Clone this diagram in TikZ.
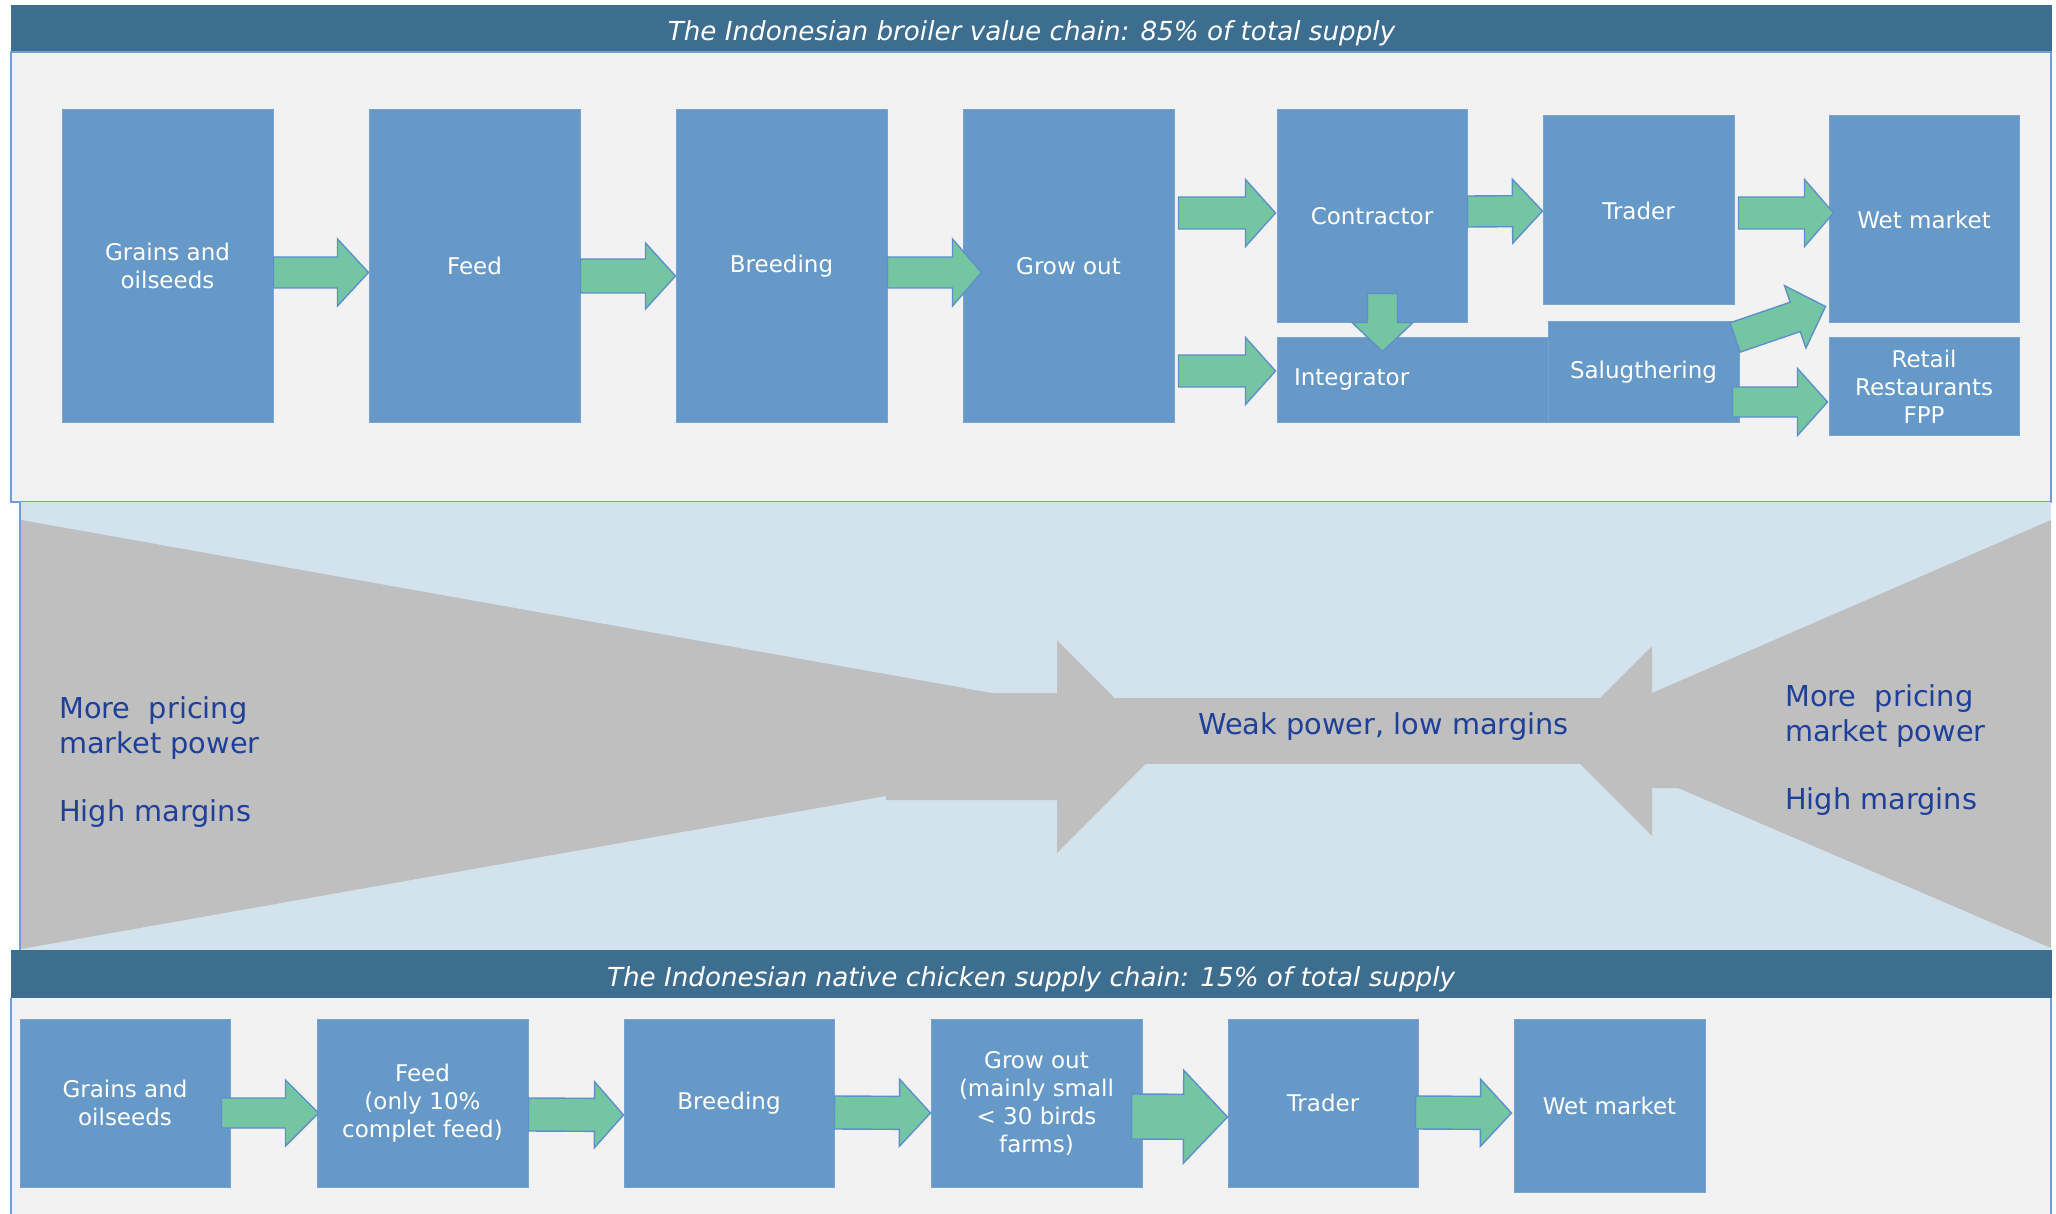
\documentclass[tikz,border=0pt]{standalone}
\usepackage{fontspec}
\setmainfont{DejaVu Sans}
\usetikzlibrary{calc}

\definecolor{hdrblue}{HTML}{3D6E8F}
\definecolor{panelgray}{HTML}{F2F2F2}
\definecolor{panelline}{HTML}{6F9FD6}
\definecolor{midblue}{HTML}{D3E3EE}
\definecolor{funnelgray}{HTML}{BFBFBF}
\definecolor{boxblue}{HTML}{6699C8}
\definecolor{boxline}{HTML}{77A3D2}
\definecolor{arrowgreen}{HTML}{74C5A2}
\definecolor{arrowline}{HTML}{5E8FCB}
\definecolor{powertext}{HTML}{1F4099}

\tikzset{
  stage/.style={fill=boxblue, draw=boxline, line width=1pt, text=white,
    align=center, inner sep=0pt, font=\fontsize{23}{28}\selectfont},
  flowarrowstyle/.style={fill=arrowgreen, draw=arrowline, line width=1.4pt},
  headertext/.style={text=white, inner sep=0pt,
    font=\fontsize{26.2}{30}\selectfont\itshape},
  powerlabel/.style={text=powertext, align=left, inner sep=0pt,
    font=\fontsize{28.8}{34.5}\selectfont},
}

% block arrow: tail, tip, shaft half-width, head half-width, head length
\newcommand\flowarrow[5]{%
  \coordinate (ba tail) at #1;
  \coordinate (ba tip) at #2;
  \coordinate (ba base) at ($(ba tip)!#5!(ba tail)$);
  \draw[flowarrowstyle]
    ($(ba tail)!#3!90:(ba tip)$) -- ($(ba base)!#3!90:(ba tip)$) --
    ($(ba base)!#4!90:(ba tip)$) -- (ba tip) --
    ($(ba base)!#4!-90:(ba tip)$) -- ($(ba base)!#3!-90:(ba tip)$) --
    ($(ba tail)!#3!-90:(ba tip)$) -- cycle;
}

\begin{document}
\begin{tikzpicture}[x=1pt, y=-1pt]
\useasboundingbox (0,0) rectangle (2056,1214);
\fill[white] (0,0) rectangle (2056,1214);

% ---------- background bands ----------
\fill[hdrblue] (11,5) rectangle (2052,52);
\path[fill=panelgray, draw=panelline, line width=1.5pt] (11,52) rectangle (2051,502);
\fill[midblue] (20,502) rectangle (2051,950);
\draw[panelline, line width=1.5pt] (20,502) -- (20,950);
\fill[panelgray] (11,998) rectangle (2051,1216);
\draw[panelline, line width=1.5pt] (11,998) -- (11,1214) (2051,998) -- (2051,1214);
\fill[hdrblue] (11,950) rectangle (2052,998);

\node[headertext] (tophead) at (1031.5,33.5)
  {The Indonesian broiler value chain: 85\% of total supply};
\node[headertext] (bothead) at (1031,979)
  {The Indonesian native chicken supply chain: 15\% of total supply};

% ---------- market power funnel ----------
\fill[funnelgray] (21,520) -- (992,693) -- (1057,693) -- (1057,640) -- (1163,746.5)
  -- (1057,853) -- (1057,800) -- (886,800) -- (886,796) -- (21,949) -- cycle;
\fill[funnelgray] (2051,520) -- (1652,693) -- (1652,646) -- (1557,741)
  -- (1652,836) -- (1652,788) -- (1678,788) -- (2051,948) -- cycle;
\fill[funnelgray] (1110,698) rectangle (1605,764);

\node[powerlabel] (leftpower) at (59,762.5) [anchor=west]
  {More\ \ pricing\\market power\\[34pt]High margins};
\node[powerlabel] (rightpower) at (1785,750.5) [anchor=west]
  {More\ \ pricing\\market power\\[34pt]High margins};
\node[powerlabel] (weak) at (1383.5,727) {Weak power, low margins};

% ---------- broiler value chain ----------
\node[stage, minimum width=211pt, minimum height=312pt] (grains) at (167.5,266) {Grains and\\oilseeds};
\node[stage, minimum width=211pt, minimum height=312pt] (feed) at (474.5,266) {Feed};
\node[stage, minimum width=211pt, minimum height=312pt] (breeding) at (781.5,266) {Breeding};
\node[stage, minimum width=211pt, minimum height=312pt] (growout) at (1068.5,266) {Grow out};
\node[stage, minimum width=190pt, minimum height=213pt] (contractor) at (1372,216.5) {Contractor};
\node[stage, minimum width=191pt, minimum height=189pt] (trader) at (1638.5,210.5) {Trader};
\node[stage, minimum width=190pt, minimum height=207pt] (wet) at (1924,219.5) {Wet market};
\node[stage, minimum width=323pt, minimum height=84pt, text width=289pt, align=left] (integ) at (1438.5,380) {Integrator};
\node[stage, minimum width=191pt, minimum height=100pt] (slaughter) at (1643.5,372) {Salugthering};
\node[stage, minimum width=190pt, minimum height=97pt] (retail) at (1924,386.5) {Retail\\Restaurants\\FPP};

\flowarrow{($(grains.east)+(0,6.5)$)}{($(feed.west)+(0,6.5)$)}{15.5pt}{33.5pt}{31pt}
\flowarrow{($(feed.east)+(0,10)$)}{($(breeding.west)+(0,10)$)}{17pt}{33pt}{30pt}
\flowarrow{($(breeding.east)+(0,6.5)$)}{($(growout.west)+(19,6.5)$)}{15.5pt}{33.5pt}{29pt}
\flowarrow{($(growout.east)+(4,-53)$)}{($(contractor.west)+(-1,-3.5)$)}{16pt}{33.5pt}{30pt}
\flowarrow{($(growout.east)+(4,105)$)}{($(integ.west)+(-1,-9)$)}{16pt}{33.5pt}{30pt}
\flowarrow{($(contractor.east)+(0,-5)$)}{($(trader.west)+(0,0.5)$)}{15.5pt}{32pt}{30pt}
\flowarrow{($(trader.east)+(4,2.5)$)}{($(wet.west)+(5,-6.5)$)}{16pt}{33.5pt}{29pt}
\flowarrow{($(contractor.south)+(10.5,-30)$)}{($(integ.north)+(-56,14)$)}{15pt}{30.5pt}{29pt}
\flowarrow{($(slaughter.east)+(-4.5,-34.5)$)}{($(wet.south west)+(-3,-17)$)}{15.5pt}{33pt}{32pt}
\flowarrow{($(slaughter.east)+(-7,30)$)}{($(retail.west)+(-1,15.5)$)}{15pt}{33.5pt}{30pt}

% ---------- native chicken supply chain ----------
\node[stage, minimum width=210pt, minimum height=168pt] (grains2) at (125,1103) {Grains and\\oilseeds};
\node[stage, minimum width=211pt, minimum height=168pt] (feed2) at (422.5,1103) {Feed\\(only 10\%\\complet feed)};
\node[stage, minimum width=210pt, minimum height=168pt] (breeding2) at (729,1103) {Breeding};
\node[stage, minimum width=211pt, minimum height=168pt] (growout2) at (1036.5,1103) {Grow out\\(mainly small\\< 30 birds\\farms)};
\node[stage, minimum width=190pt, minimum height=168pt] (trader2) at (1323,1103) {Trader};
\node[stage, minimum width=191pt, minimum height=173pt] (wet2) at (1609.5,1105.5) {Wet market};

\flowarrow{($(grains2.east)+(-9,10)$)}{($(feed2.west)+(2,10)$)}{15pt}{33pt}{33pt}
\flowarrow{($(feed2.east)+(0,11.5)$)}{($(breeding2.west)+(0,12)$)}{16.5pt}{33pt}{29pt}
\flowarrow{($(breeding2.east)+(0,9.5)$)}{($(growout2.west)+(0,10)$)}{16.5pt}{33.5pt}{31pt}
\flowarrow{($(growout2.east)+(-11,13.5)$)}{($(trader2.west)+(0,14)$)}{22.5pt}{46.5pt}{44pt}
\flowarrow{($(trader2.east)+(-3,9.5)$)}{($(wet2.west)+(-2,7.5)$)}{16.5pt}{33.5pt}{31pt}
\end{tikzpicture}
\end{document}
